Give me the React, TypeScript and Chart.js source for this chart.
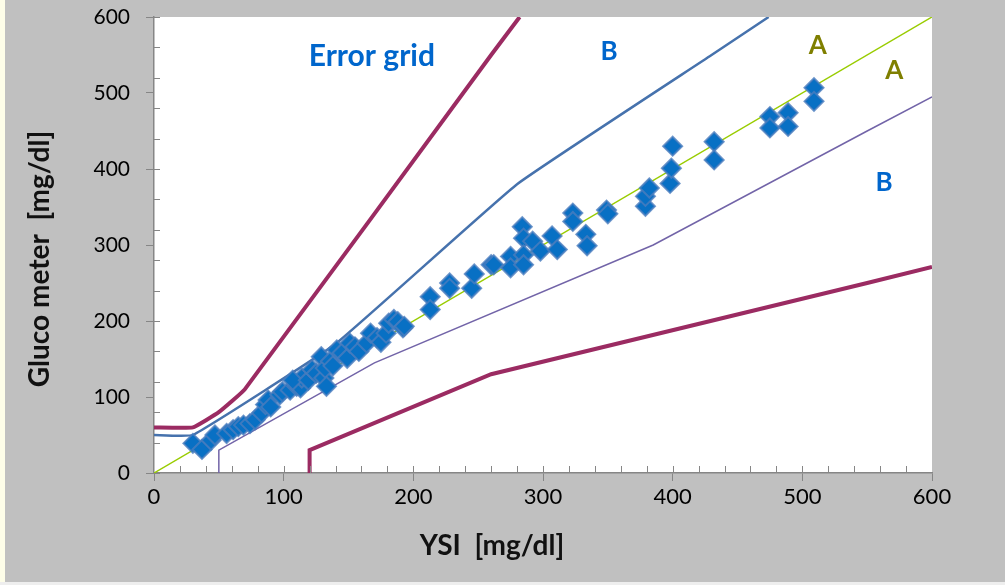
import { useEffect, useRef } from "react";
import { Chart, registerables } from "chart.js";

Chart.register(...registerables);

// Measured points: YSI reference [mg/dl] vs gluco meter [mg/dl]
const ysiValues = [
  30, 37, 44, 47, 56, 61, 65, 69, 74, 78, 83, 86, 88, 90, 97, 99, 105, 110, 113, 114, 107, 119, 122,
  125, 129, 131, 132, 133, 136, 138, 141, 145, 149, 151, 155, 158, 164, 167, 172, 175, 179, 181, 185, 188, 192, 193,
  213, 213, 228, 228, 245, 247, 260, 262, 275, 275, 284, 285, 285, 285, 292, 298,
  307, 311, 323, 323, 333, 334, 349, 350, 379, 379, 382, 398, 399, 400, 432, 432,
  475, 475, 489, 489, 509, 509,
];
const meterValues = [
  39, 31, 43, 50, 52, 57, 61, 63, 65, 70, 79, 90, 96, 87, 103, 107, 109, 114, 112, 125, 122, 122, 136,
  131, 153, 125, 138, 114, 147, 141, 162, 158, 151, 171, 166, 160, 171, 184, 178, 172, 184, 197, 202, 199, 191, 193,
  232, 215, 250, 243, 243, 262, 274, 274, 285, 270, 324, 309, 287, 274, 305, 292,
  312, 294, 342, 331, 314, 299, 346, 341, 351, 364, 375, 381, 401, 430, 436, 412,
  469, 454, 474, 456, 507, 489,
];

// Error grid boundaries (Parkes, type 1)
const identityX = [0, 600];
const identityY = [0, 600];
const upperAX = [0, 30, 140, 280, 430, 474];
const upperAY = [50, 50, 170, 380, 550, 600];
const lowerAX = [50, 50, 170, 385, 550, 600];
const lowerAY = [0, 30, 145, 300, 450, 495];
const upperBX = [0, 30, 50, 70, 260, 282];
const upperBY = [60, 60, 80, 110, 550, 600];
const lowerBX = [120, 120, 260, 550, 600];
const lowerBY = [0, 30, 130, 250, 271];

// Axes
const axisMin = 0;
const axisMax = 600;
const majorStep = 100;
const xMinorTicks = [20, 40, 60, 80, 100, 120, 140, 160, 180, 200, 220, 240, 260, 280, 300, 320, 340, 360, 380, 400, 420, 440, 460, 480, 500, 520, 540, 560, 580];
const yMinorTicks = [0, 40, 80, 120, 160, 200, 240, 280, 320, 360, 400, 440, 480, 520, 560, 600];

// Zone labels (data coordinates)
const zoneTexts = ["Error grid", "B", "A", "A", "B"];
const zoneX = [168, 351, 512, 571, 563];
const zoneY = [548, 554, 563, 530, 382];
const zoneColors = ["#0066cc", "#0066cc", "#7f7f00", "#7f7f00", "#0066cc"];
const zoneSizes = [30, 26, 26, 26, 26];

const xTitle = "YSI  [mg/dl]";
const yTitle = "Gluco meter  [mg/dl]";

const toPts = (xs: number[], ys: number[]) => xs.map((x, i) => ({ x, y: ys[i] }));

export default function App() {
  const ref = useRef<HTMLCanvasElement | null>(null);

  useEffect(() => {
    if (!ref.current) return;
    const decor = {
      id: "decor",
      beforeDraw(chart: any) {
        const { ctx, chartArea: a } = chart;
        ctx.save();
        ctx.fillStyle = "#ffffff";
        ctx.fillRect(a.left, a.top, a.right - a.left, a.bottom - a.top);
        ctx.restore();
      },
      afterDraw(chart: any) {
        const { ctx, chartArea: a, scales } = chart;
        const xs = scales.x;
        const ys = scales.y;
        ctx.save();
        // inside minor ticks
        ctx.strokeStyle = "#868686";
        ctx.lineWidth = 1;
        ctx.beginPath();
        xMinorTicks.forEach((v) => {
          const px = Math.round(xs.getPixelForValue(v)) + 0.5;
          ctx.moveTo(px, a.bottom);
          ctx.lineTo(px, a.bottom - 7);
        });
        yMinorTicks.forEach((v) => {
          const py = Math.round(ys.getPixelForValue(v)) + 0.5;
          ctx.moveTo(a.left, py);
          ctx.lineTo(a.left + 6, py);
        });
        ctx.stroke();
        // zone labels
        ctx.textAlign = "center";
        ctx.textBaseline = "middle";
        zoneTexts.forEach((t, i) => {
          ctx.fillStyle = zoneColors[i];
          ctx.font = `bold ${zoneSizes[i]}px Lato, sans-serif`;
          ctx.fillText(t, xs.getPixelForValue(zoneX[i]), ys.getPixelForValue(zoneY[i]));
        });
        // axis titles
        ctx.fillStyle = "#111111";
        ctx.font = "bold 28px Lato, sans-serif";
        ctx.fillText(xTitle, 492, 546);
        ctx.translate(40, 259);
        ctx.rotate(-Math.PI / 2);
        ctx.fillText(yTitle, 0, 0);
        ctx.restore();
      },
    };

    const lineDs = (label: string, xs: number[], ys: number[], color: string, width: number, order: number, tension: number) => ({
      label,
      data: toPts(xs, ys),
      showLine: true,
      borderColor: color,
      backgroundColor: color,
      borderWidth: width,
      pointRadius: 0,
      pointHoverRadius: 0,
      tension,
      order,
    });

    const chart = new Chart(ref.current, {
      type: "scatter",
      data: {
        datasets: [
          {
            label: "Measurements",
            data: toPts(ysiValues, meterValues),
            pointStyle: "rectRot",
            pointRadius: 9.5,
            pointBackgroundColor: "#0870c4",
            pointBorderColor: "rgba(75,125,190,0.8)",
            pointBorderWidth: 2,
            order: 0,
          } as any,
          lineDs("A/B lower", lowerAX, lowerAY, "#7264a8", 1.5, 1, 0),
          lineDs("A/B upper", upperAX, upperAY, "#4672ad", 2.5, 2, 0.1),
          lineDs("B/C lower", lowerBX, lowerBY, "#9b2b62", 4, 3, 0),
          lineDs("B/C upper", upperBX, upperBY, "#9b2b62", 4, 4, 0.1),
          lineDs("Identity", identityX, identityY, "#99cc00", 1.5, 5, 0),
        ],
      },
      options: {
        responsive: false,
        animation: false,
        layout: { padding: { left: 0, right: 73, top: 17, bottom: 0 } },
        plugins: { legend: { display: false }, tooltip: { enabled: false } },
        scales: {
          x: {
            type: "linear",
            min: axisMin,
            max: axisMax,
            afterFit: (s: any) => {
              s.height = 112;
              s.paddingLeft = 0;
              s.paddingRight = 0;
            },
            ticks: {
              stepSize: majorStep,
              color: "#000000",
              font: { family: "Lato, sans-serif", size: 22 },
              padding: 3,
            },
            grid: { drawOnChartArea: false, drawTicks: true, tickLength: 8, color: "#868686", lineWidth: 1 },
            border: { display: true, color: "#868686", width: 1.5 },
          },
          y: {
            type: "linear",
            min: axisMin,
            max: axisMax,
            afterFit: (s: any) => {
              s.width = 154;
              s.paddingTop = 0;
              s.paddingBottom = 0;
            },
            ticks: {
              stepSize: majorStep,
              color: "#000000",
              font: { family: "Lato, sans-serif", size: 21 },
              padding: 16,
            },
            grid: { drawOnChartArea: false, drawTicks: true, tickLength: 8, color: "#868686", lineWidth: 1 },
            border: { display: true, color: "#868686", width: 1.5 },
          },
        },
      },
      plugins: [decor],
    } as any);
    return () => chart.destroy();
  }, []);

  return (
    <div style={{ position: "fixed", left: 0, top: 0, width: 1005, height: 585, background: "#c0c0c0", overflow: "hidden" }}>
      <div style={{ position: "absolute", left: 0, top: 0, width: 5, height: 585, background: "#fdfde8" }} />
      <div style={{ position: "absolute", left: 0, top: 582, width: 1005, height: 3, background: "#eeeeee" }} />
      <canvas ref={ref} width={1005} height={585} style={{ position: "absolute", left: 0, top: 0 }} />
    </div>
  );
}
